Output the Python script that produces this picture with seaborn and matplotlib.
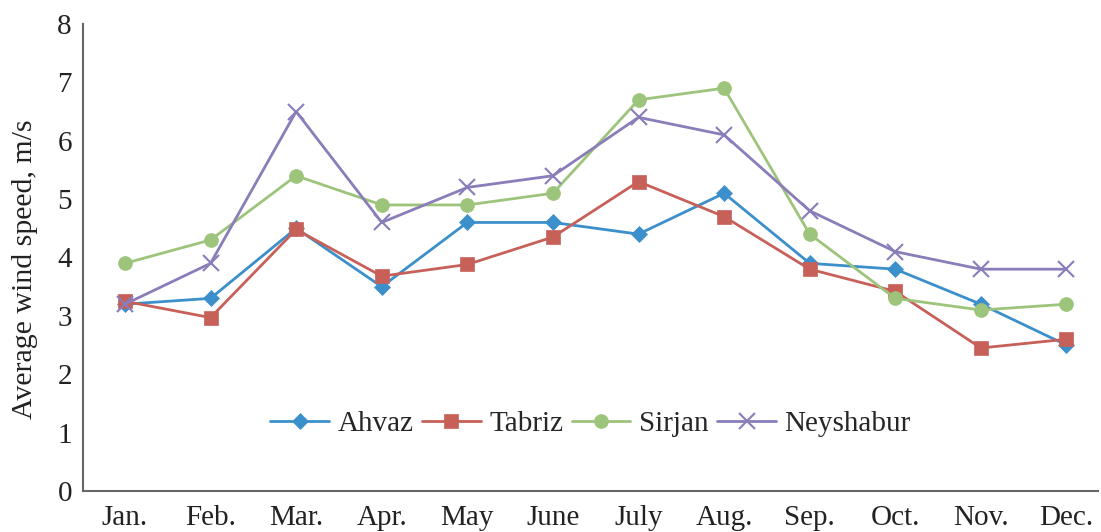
import matplotlib
matplotlib.use("Agg")
import matplotlib.pyplot as plt
import seaborn as sns
import pandas as pd

months = ["Jan.", "Feb.", "Mar.", "Apr.", "May", "June", "July", "Aug.", "Sep.", "Oct.", "Nov.", "Dec."]
ahvaz = [3.2, 3.3, 4.5, 3.5, 4.6, 4.6, 4.4, 5.1, 3.9, 3.8, 3.2, 2.5]
tabriz = [3.25, 2.97, 4.48, 3.68, 3.88, 4.35, 5.3, 4.7, 3.8, 3.42, 2.45, 2.6]
sirjan = [3.9, 4.3, 5.4, 4.9, 4.9, 5.1, 6.7, 6.9, 4.4, 3.3, 3.1, 3.2]
neyshabur = [3.2, 3.9, 6.5, 4.6, 5.2, 5.4, 6.4, 6.1, 4.8, 4.1, 3.8, 3.8]
stations = ["Ahvaz", "Tabriz", "Sirjan", "Neyshabur"]

rows = []
for name, vals in zip(stations, [ahvaz, tabriz, sirjan, neyshabur]):
    for i, v in enumerate(vals):
        rows.append({"month": i, "speed": v, "station": name})
df = pd.DataFrame(rows)

sns.set_style("white")
plt.rcParams["font.family"] = ["Liberation Serif", "DejaVu Serif"]

palette = {"Ahvaz": "#3b8fca", "Tabriz": "#c8605a", "Sirjan": "#9dc47b", "Neyshabur": "#8a7db9"}
markers = {"Ahvaz": "D", "Tabriz": "s", "Sirjan": "o", "Neyshabur": "x"}
sizes_m = {"Ahvaz": 8, "Tabriz": 10, "Sirjan": 10, "Neyshabur": 11}

fig = plt.figure(figsize=(11.01, 5.32), dpi=100)
ax = fig.add_axes([0.0754, 0.077, 0.922, 0.878])

for name in stations:
    sub = df[df.station == name]
    sns.lineplot(data=sub, x="month", y="speed", ax=ax, color=palette[name],
                 marker=markers[name], markersize=sizes_m[name], linewidth=2.0,
                 markeredgewidth=1.5 if name == "Neyshabur" else 0.5,
                 markeredgecolor=palette[name], label=name)

ax.set_xlim(-0.49, 11.37)
ax.set_ylim(0, 8)
ax.set_yticks(range(0, 9))
ax.set_xticks(range(12))
ax.set_xticklabels(months)
ax.set_xlabel("")
ax.set_ylabel("Average wind speed, m/s", fontsize=21.5, color="#222222")
ax.yaxis.set_label_coords(-0.044, 0.475)
ax.tick_params(axis="y", direction="in", length=8, width=1.3, color="#666666", labelsize=21, labelcolor="#222222", pad=8)
ax.tick_params(axis="x", length=0, labelsize=21, labelcolor="#222222", pad=10)
for s in ["top", "right"]:
    ax.spines[s].set_visible(False)
for s in ["left", "bottom"]:
    ax.spines[s].set_color("#666666")
    ax.spines[s].set_linewidth(1.5)

leg = ax.legend(loc="lower center", bbox_to_anchor=(0.50, 0.06), ncol=4, frameon=False,
                fontsize=21, handlelength=2.0, columnspacing=0.3, handletextpad=0.3)

fig.savefig("out.png", dpi=100)
